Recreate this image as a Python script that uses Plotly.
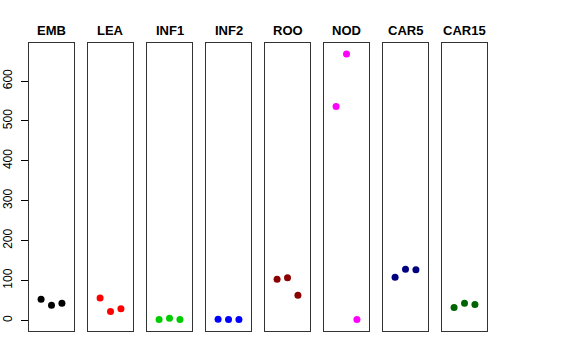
import plotly.graph_objects as go

tissues = ["EMB", "LEA", "INF1", "INF2", "ROO", "NOD", "CAR5", "CAR15"]
replicates = [1, 2, 3]
emb = [53, 38, 43]
lea = [56, 22, 29]
inf1 = [2, 5, 2]
inf2 = [3, 2, 2]
roo = [103, 107, 63]
nod = [536, 668, 2]
car5 = [108, 128, 127]
car15 = [32, 43, 40]
values = [emb, lea, inf1, inf2, roo, nod, car5, car15]
colors = ["#000000", "#FF0000", "#00CD00", "#0000FF", "#8B0000", "#FF00FF", "#000080", "#006400"]
y_ticks = [0, 100, 200, 300, 400, 500, 600]

W, H = 576, 360
left0, step, pw = 29, 59, 45
top_px, bot_px = 43.3, 331
ydom = [(H - bot_px) / H, (H - top_px) / H]

fig = go.Figure()
layout = dict(width=W, height=H, margin=dict(l=0, r=0, t=0, b=0),
              paper_bgcolor="white", plot_bgcolor="white", showlegend=False,
              font=dict(family="Liberation Sans, Arial, sans-serif", color="black"))
annotations = []
ymin, ymax = 0, 668
pad = (ymax - ymin) * 0.04
for i, (name, vals, col) in enumerate(zip(tissues, values, colors)):
    n = "" if i == 0 else str(i + 1)
    fig.add_trace(go.Scatter(x=replicates, y=vals, mode="markers",
                             marker=dict(color=col, size=7),
                             xaxis="x" + n, yaxis="y" + n, hoverinfo="y"))
    x0 = (left0 + i * step) / W
    x1 = (left0 + i * step + pw) / W
    layout["xaxis" + n] = dict(domain=[x0, x1], range=[-0.16, 4.16], anchor="y" + n,
                               showline=True, mirror=True, linecolor="#333", linewidth=1,
                               showticklabels=False, ticks="", showgrid=False, zeroline=False,
                               automargin=False)
    yax = dict(domain=ydom, range=[ymin - pad, ymax + pad], anchor="x" + n,
               showline=True, mirror=True, linecolor="#333", linewidth=1,
               showgrid=False, zeroline=False, automargin=False)
    if i == 0:
        yax.update(tickvals=y_ticks, ticks="outside", ticklen=7, tickcolor="black",
                   tickangle=-90, ticklabelstandoff=4, tickfont=dict(size=12, color="black"))
    else:
        yax.update(showticklabels=False, ticks="")
    layout["yaxis" + n] = yax
    annotations.append(dict(text="<b>" + name + "</b>", x=(x0 + x1) / 2, y=(H - 30) / H,
                            xref="paper", yref="paper", showarrow=False,
                            xanchor="center", yanchor="middle",
                            font=dict(size=13, color="black")))
layout["annotations"] = annotations
fig.update_layout(**layout)
fig.write_html("out.html", config={"displayModeBar": False},
               post_script="document.body.style.margin='0';")
